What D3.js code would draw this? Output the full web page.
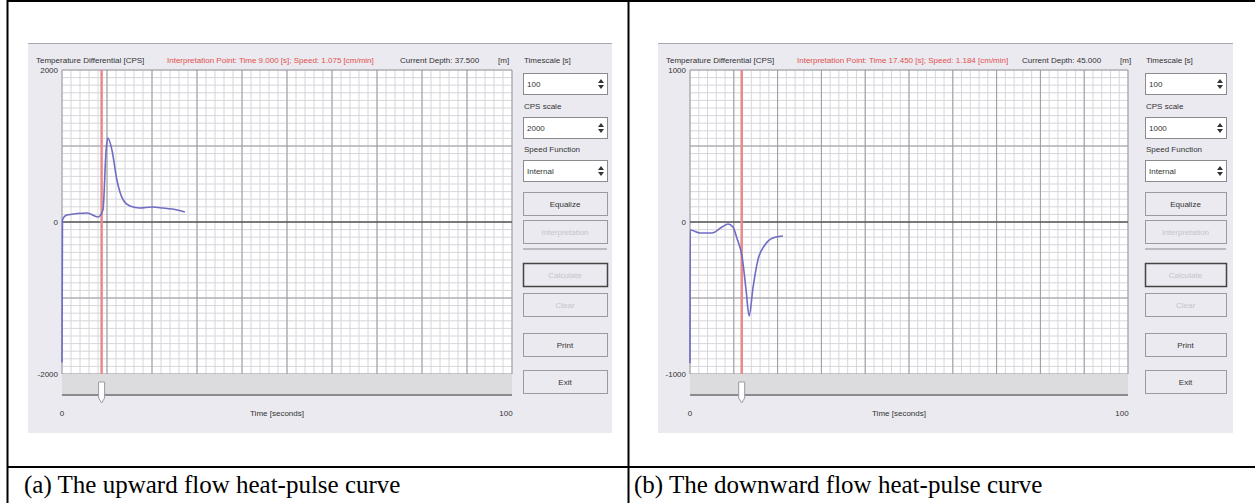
<!DOCTYPE html>
<html lang="en">
<head>
  <meta charset="UTF-8">
  <title>Heat-pulse curves</title>
  <script src="https://d3js.org/d3.v7.min.js"></script>
  <style>
    body { margin: 0; background: #fff; }
    .ui { font-family: "Liberation Sans", Arial, sans-serif; font-size: 8px; fill: #333; }
    .caption { font-family: "Liberation Serif", serif; font-size: 25px; fill: #000; }
  </style>
</head>
<body>
  <svg width="1255" height="503"></svg>

  <script>
    // upward flow (a)
    const upTime = [0, 0.1, 1.1, 5.6, 8.0, 9.1, 9.8, 10.2, 11.1, 12.2, 13.6, 15.1, 17.3, 20.0, 22.4, 25.6, 27.3];
    const upCps  = [-1850, 30, 92, 118, 66, 158, 948, 1105, 948, 553, 290, 210, 184, 197, 184, 158, 132];

    // downward flow (b)
    const downTime = [0, 0.05, 2.3, 5.0, 7.3, 8.7, 9.8, 10.7, 11.9, 12.8, 13.5, 14.4, 15.5, 17.1, 18.9, 21.2];
    const downCps  = [-930, -53, -72, -72, -33, -13, -33, -105, -230, -447, -618, -428, -250, -151, -105, -92];

    const captions = ["(a) The upward flow heat-pulse curve", "(b) The downward flow heat-pulse curve"];
    const cpsScales = [2000, 1000];
    const interpTimes = [8.8, 11.8];
    const headerNotes = [
      "Interpretation Point: Time 9.000 [s]; Speed: 1.075 [cm/min]",
      "Interpretation Point: Time 17.450 [s]; Speed: 1.184 [cm/min]"
    ];
    const depths = ["37.500", "45.000"];
    const timeTicks = ["0", "100"];
    const buttonLabels = ["Equalize", "Interpretation", "Calculate", "Clear", "Print", "Exit"];
    const buttonEnabled = [true, false, false, false, true, true];

    const svg = d3.select("svg");

    // table lines
    const table = svg.append("g").attr("stroke", "#000").attr("stroke-width", 2);
    table.append("line").attr("x1", 7).attr("x2", 1255).attr("y1", 1).attr("y2", 1);
    table.append("line").attr("x1", 7.5).attr("x2", 7.5).attr("y1", 0).attr("y2", 503);
    table.append("line").attr("x1", 628.5).attr("x2", 628.5).attr("y1", 0).attr("y2", 503);
    table.append("line").attr("x1", 7).attr("x2", 1255).attr("y1", 467).attr("y2", 467);

    const layouts = [
      { x0: 28, x1: 612, plotL: 62, plotR: 512, ctrlL: 523, ctrlR: 607, capX: 24 },
      { x0: 658, x1: 1233, plotL: 690, plotR: 1128, ctrlL: 1145, ctrlR: 1226, capX: 634 }
    ];
    const panelTop = 43, panelBottom = 433, plotTop = 70, plotBottom = 374;

    const series = [
      upTime.map((t, i) => ({ t: t, v: upCps[i] })),
      downTime.map((t, i) => ({ t: t, v: downCps[i] }))
    ];

    layouts.forEach((L, k) => {
      const g = svg.append("g");
      const maxCps = cpsScales[k];

      // window background
      g.append("rect")
        .attr("x", L.x0).attr("y", panelTop)
        .attr("width", L.x1 - L.x0).attr("height", panelBottom - panelTop)
        .attr("fill", "#ebeaf0");
      g.append("line").attr("x1", L.x0).attr("x2", L.x1).attr("y1", panelTop + 0.5).attr("y2", panelTop + 0.5)
        .attr("stroke", "#a8a8b0");

      const x = d3.scaleLinear().domain([0, 100]).range([L.plotL, L.plotR]);
      const y = d3.scaleLinear().domain([-maxCps, maxCps]).range([plotBottom, plotTop]);

      // plot area
      g.append("rect")
        .attr("x", L.plotL).attr("y", plotTop)
        .attr("width", L.plotR - L.plotL).attr("height", plotBottom - plotTop)
        .attr("fill", "#fff");

      // minor grid
      g.append("g").selectAll("line").data(x.ticks(50)).join("line")
        .attr("x1", d => x(d)).attr("x2", d => x(d))
        .attr("y1", plotTop).attr("y2", plotBottom)
        .attr("stroke", "#d6d6dc").attr("stroke-width", 1);
      g.append("g").selectAll("line").data(y.ticks(40)).join("line")
        .attr("x1", L.plotL).attr("x2", L.plotR)
        .attr("y1", d => y(d)).attr("y2", d => y(d))
        .attr("stroke", "#d6d6dc").attr("stroke-width", 1);

      // major grid
      g.append("g").selectAll("line").data(x.ticks(10)).join("line")
        .attr("x1", d => x(d)).attr("x2", d => x(d))
        .attr("y1", plotTop).attr("y2", plotBottom)
        .attr("stroke", "#9a9aa0").attr("stroke-width", 1);
      g.append("g").selectAll("line").data(y.ticks(4)).join("line")
        .attr("x1", L.plotL).attr("x2", L.plotR)
        .attr("y1", d => y(d)).attr("y2", d => y(d))
        .attr("stroke", d => d === 0 ? "#555" : "#9a9aa0")
        .attr("stroke-width", d => d === 0 ? 1.6 : 1);

      // interpretation marker
      g.append("line")
        .attr("x1", x(interpTimes[k])).attr("x2", x(interpTimes[k]))
        .attr("y1", plotTop).attr("y2", plotBottom)
        .attr("stroke", "#e88a8a").attr("stroke-width", 2.5);

      // curve
      const line = d3.line()
        .x(d => x(d.t)).y(d => y(d.v))
        .curve(d3.curveMonotoneX);
      g.append("path")
        .datum(series[k])
        .attr("d", line)
        .attr("fill", "none")
        .attr("stroke", "#6f6cc4")
        .attr("stroke-width", 1.6);

      // y labels
      g.append("g").selectAll("text").data([maxCps, 0, -maxCps]).join("text")
        .attr("class", "ui")
        .attr("x", L.plotL - 4).attr("y", d => y(d) + 3)
        .attr("text-anchor", "end")
        .text(d => d === 0 ? "0" : d < 0 ? "-" + Math.abs(d) : d);

      // slider band and time axis
      g.append("rect")
        .attr("x", L.plotL).attr("y", plotBottom)
        .attr("width", L.plotR - L.plotL).attr("height", 20)
        .attr("fill", "#dcdcde");
      g.append("line")
        .attr("x1", L.plotL).attr("x2", L.plotR).attr("y1", 395).attr("y2", 395)
        .attr("stroke", "#6a6a70").attr("stroke-width", 1.5);
      g.append("path")
        .attr("d", `M${x(interpTimes[k]) - 3},382 h6 v16 l-3,5 l-3,-5 Z`)
        .attr("fill", "#fff").attr("stroke", "#9a9aa0");

      g.append("text").attr("class", "ui").attr("x", x(0)).attr("y", 416)
        .attr("text-anchor", "middle").text(timeTicks[0]);
      g.append("text").attr("class", "ui").attr("x", x(100) - 6).attr("y", 416)
        .attr("text-anchor", "middle").text(timeTicks[1]);
      g.append("text").attr("class", "ui").attr("x", x(50) - 10).attr("y", 416)
        .attr("text-anchor", "middle").text("Time [seconds]");

      // header
      g.append("text").attr("class", "ui").attr("x", L.x0 + 8).attr("y", 63)
        .text("Temperature Differential [CPS]");
      g.append("text").attr("class", "ui").attr("x", L.x0 + 139).attr("y", 63)
        .style("fill", "#e2504e")
        .text(headerNotes[k]);
      g.append("text").attr("class", "ui").attr("x", L.ctrlL - 123).attr("y", 63)
        .text("Current Depth:  " + depths[k]);
      g.append("text").attr("class", "ui").attr("x", L.ctrlL - 25).attr("y", 63)
        .text("[m]");
      g.append("text").attr("class", "ui").attr("x", L.ctrlL + 1).attr("y", 63)
        .text("Timescale [s]");

      // dropdowns
      const boxes = [
        { y: 73, value: "100" },
        { y: 117, value: String(maxCps), label: "CPS scale", ly: 109 },
        { y: 160, value: "Internal", label: "Speed Function", ly: 152 }
      ];
      boxes.forEach(b => {
        if (b.label) {
          g.append("text").attr("class", "ui").attr("x", L.ctrlL + 1).attr("y", b.ly).text(b.label);
        }
        g.append("rect")
          .attr("x", L.ctrlL + 0.5).attr("y", b.y + 0.5)
          .attr("width", L.ctrlR - L.ctrlL).attr("height", 21)
          .attr("fill", "#fff").attr("stroke", "#8a8a90");
        g.append("text").attr("class", "ui").attr("x", L.ctrlL + 4).attr("y", b.y + 14).text(b.value);
        g.append("path")
          .attr("d", `M${L.ctrlR - 9},${b.y + 10} l3,-4 l3,4 Z M${L.ctrlR - 9},${b.y + 12} l3,4 l3,-4 Z`)
          .attr("fill", "#333");
      });

      // buttons
      const buttonY = [192, 220, 263, 293, 333, 370];
      buttonLabels.forEach((label, i) => {
        const by = buttonY[i];
        g.append("rect")
          .attr("x", L.ctrlL + 0.5).attr("y", by + 0.5)
          .attr("width", L.ctrlR - L.ctrlL).attr("height", 23)
          .attr("fill", "#ebeaf0")
          .attr("stroke", i === 2 ? "#444" : "#9a9aa2")
          .attr("stroke-width", i === 2 ? 1.5 : 1);
        g.append("text").attr("class", "ui")
          .attr("x", (L.ctrlL + L.ctrlR) / 2).attr("y", by + 15)
          .attr("text-anchor", "middle")
          .style("fill", buttonEnabled[i] ? "#333" : "#c4c4cc")
          .text(label);
      });
      g.append("line").attr("x1", L.ctrlL).attr("x2", L.ctrlR).attr("y1", 249).attr("y2", 249)
        .attr("stroke", "#8a8a90");

      // caption
      svg.append("text").attr("class", "caption")
        .attr("x", L.capX).attr("y", 493)
        .text(captions[k]);
    });
  </script>
</body>
</html>
